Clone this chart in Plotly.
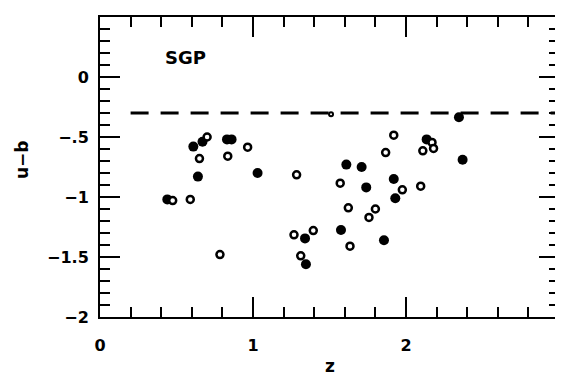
import plotly.graph_objects as go

# filled circles (z, u-b)
filled_z = [0.61, 0.67, 0.83, 0.86, 0.64, 1.03, 0.44, 1.61, 1.71, 1.74, 1.92, 1.93,
            1.575, 1.856, 1.34, 1.346, 2.346, 2.135, 2.37]
filled_ub = [-0.58, -0.54, -0.52, -0.52, -0.83, -0.80, -1.02, -0.73, -0.75, -0.92, -0.85, -1.01,
             -1.275, -1.36, -1.345, -1.56, -0.335, -0.52, -0.69]

# open circles
open_z = [0.70, 0.965, 0.65, 0.835, 0.475, 0.59, 0.784, 1.285, 1.57, 1.623, 1.80, 1.758,
          1.634, 1.268, 1.394, 1.312, 1.92, 1.867, 2.17, 2.18, 2.11, 1.976, 2.096]
open_ub = [-0.50, -0.585, -0.68, -0.66, -1.03, -1.02, -1.48, -0.815, -0.885, -1.09, -1.10, -1.17,
           -1.41, -1.315, -1.28, -1.49, -0.485, -0.63, -0.545, -0.595, -0.615, -0.94, -0.91]

# small marker sitting on the dashed line
small_z = [1.51]
small_ub = [-0.31]

# dashed reference line
limit_z = [0.2, 3.0]
limit_ub = [-0.3, -0.3]

# tick labels written without the leading zero
y_labelalias = {"0.5": ".5", "\u22120.5": "\u2212.5"}

FONT = "DejaVu Sans"


def bold(s):
    return "<b>" + s + "</b>"


fig = go.Figure()

fig.add_trace(go.Scatter(
    x=limit_z, y=limit_ub, mode="lines",
    line=dict(color="black", width=3, dash="18px,12px"),
    hoverinfo="skip"))

fig.add_trace(go.Scatter(
    x=filled_z, y=filled_ub, mode="markers",
    marker=dict(symbol="circle", size=10, color="black", line=dict(width=0))))

fig.add_trace(go.Scatter(
    x=open_z, y=open_ub, mode="markers",
    marker=dict(symbol="circle", size=7, color="white", line=dict(color="black", width=2.5))))

fig.add_trace(go.Scatter(
    x=small_z, y=small_ub, mode="markers",
    marker=dict(symbol="circle", size=4, color="white", line=dict(color="black", width=2))))

tickfont = dict(family=FONT, size=16, color="black", weight="bold")

# automargin off: no second layout pass
frame = dict(showline=True, linecolor="black", linewidth=2, mirror="ticks",
             ticks="inside", ticklen=20, tickwidth=2, tickcolor="black",
             showgrid=False, zeroline=False, tickfont=tickfont, automargin=False)

fig.update_xaxes(
    range=[0, 3], tickmode="linear", tick0=0, dtick=1,
    minor=dict(dtick=0.2, ticks="inside", ticklen=10, tickwidth=2, tickcolor="black",
               showgrid=False),
    ticklabelstandoff=13,
    **frame)

fig.update_yaxes(
    range=[-2, 0.5], tickmode="linear", tick0=0, dtick=0.5, labelalias=y_labelalias,
    minor=dict(dtick=0.1, ticks="inside", ticklen=10, tickwidth=2, tickcolor="black",
               showgrid=False),
    ticklabelstandoff=6,
    **frame)

# axis titles and panel label
fig.add_annotation(x=0.5, y=0, xref="paper", yref="paper", yanchor="middle", yshift=-49,
                   text=bold("z"), showarrow=False,
                   font=dict(family=FONT, size=17, color="black"))
fig.add_annotation(x=0, y=0.5, xref="paper", yref="paper", xanchor="center", xshift=-78, yshift=7,
                   text=bold("u\u2212b"), textangle=-90, showarrow=False,
                   font=dict(family=FONT, size=17, color="black"))
fig.add_annotation(x=0.556, y=0.165, xref="x", yref="y", text=bold("SGP"), showarrow=False,
                   font=dict(family=FONT, size=18, color="black"))

# the page body adds an 8px offset, so the figure is shrunk to keep the frame in place
fig.update_layout(
    width=555, height=371,
    margin=dict(l=92, r=4, t=9, b=62, autoexpand=False),
    plot_bgcolor="white", paper_bgcolor="white",
    showlegend=False,
)

fig.write_html("out.html")
